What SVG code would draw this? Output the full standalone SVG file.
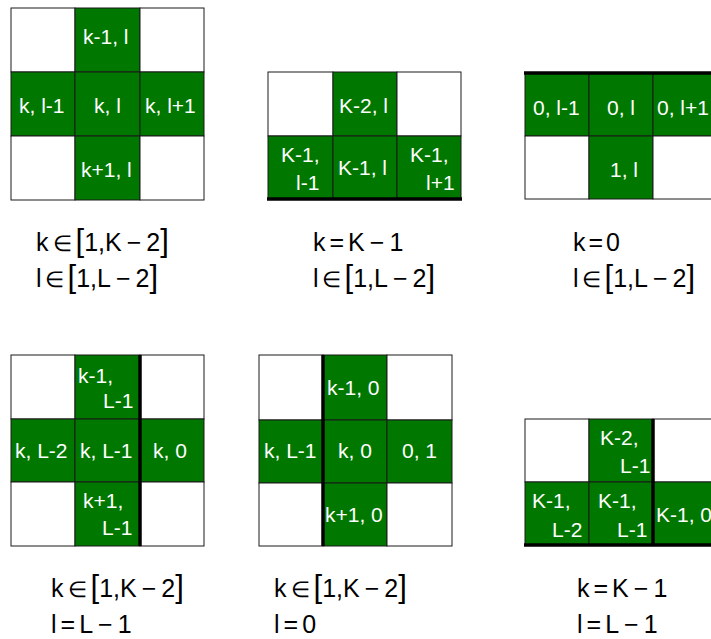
<svg xmlns="http://www.w3.org/2000/svg" width="711" height="639" viewBox="0 0 711 639">
<style>
.g{fill:#007800;stroke:#1a1a1a;stroke-width:1}
.w{fill:#fff;stroke:#1a1a1a;stroke-width:1}
.thick{stroke:#000;stroke-width:3.5;fill:none}
.t{font-family:"Liberation Sans",Arial,sans-serif;font-size:21px;fill:#fff}
.m{font-family:"Liberation Sans",Arial,sans-serif;font-size:25px;fill:#000}
.b{font-size:31px}
.e{font-size:22px}
</style>
<rect width="711" height="639" fill="#fff"/>

<g id="grid1">
<rect class="w" x="11" y="8" width="64" height="64"/>
<rect class="g" x="75" y="8" width="65" height="64"/>
<rect class="w" x="140" y="8" width="64" height="64"/>
<rect class="g" x="11" y="72" width="64" height="64"/>
<rect class="g" x="75" y="72" width="65" height="64"/>
<rect class="g" x="140" y="72" width="64" height="64"/>
<rect class="w" x="11" y="136" width="64" height="64"/>
<rect class="g" x="75" y="136" width="65" height="64"/>
<rect class="w" x="140" y="136" width="64" height="64"/>
<text class="t" x="83" y="44">k-1, l</text>
<text class="t" x="19" y="113">k, l-1</text>
<text class="t" x="94" y="113">k, l</text>
<text class="t" x="145" y="113">k, l+1</text>
<text class="t" x="81" y="177">k+1, l</text>
</g>

<g id="grid2">
<rect class="w" x="268" y="72" width="65" height="64"/>
<rect class="g" x="333" y="72" width="64" height="64"/>
<rect class="w" x="397" y="72" width="64" height="64"/>
<rect class="g" x="268" y="136" width="65" height="63"/>
<rect class="g" x="333" y="136" width="64" height="63"/>
<rect class="g" x="397" y="136" width="64" height="63"/>
<line class="thick" x1="267" y1="199" x2="462" y2="199"/>
<text class="t" x="339" y="113">K-2, l</text>
<text class="t" x="281" y="162">K-1,</text>
<text class="t" x="296" y="190">l-1</text>
<text class="t" x="338" y="175">K-1, l</text>
<text class="t" x="410" y="162">K-1,</text>
<text class="t" x="426" y="190">l+1</text>
</g>

<g id="grid3">
<rect class="g" x="525" y="73" width="64" height="63"/>
<rect class="g" x="589" y="73" width="64" height="63"/>
<rect class="g" x="653" y="73" width="64" height="63"/>
<rect class="w" x="525" y="136" width="64" height="63"/>
<rect class="g" x="589" y="136" width="64" height="63"/>
<rect class="w" x="653" y="136" width="64" height="63"/>
<line class="thick" x1="524" y1="73" x2="718" y2="73"/>
<text class="t" x="533" y="115">0, l-1</text>
<text class="t" x="607" y="115">0, l</text>
<text class="t" x="657" y="115">0, l+1</text>
<text class="t" x="610" y="177">1, l</text>
</g>

<g id="grid4">
<rect class="w" x="11" y="355" width="64" height="64"/>
<rect class="g" x="75" y="355" width="65" height="64"/>
<rect class="w" x="140" y="355" width="64" height="64"/>
<rect class="g" x="11" y="419" width="64" height="63"/>
<rect class="g" x="75" y="419" width="65" height="63"/>
<rect class="g" x="140" y="419" width="64" height="63"/>
<rect class="w" x="11" y="482" width="64" height="64"/>
<rect class="g" x="75" y="482" width="65" height="64"/>
<rect class="w" x="140" y="482" width="64" height="64"/>
<line class="thick" x1="140" y1="355" x2="140" y2="546"/>
<text class="t" x="78" y="383">k-1,</text>
<text class="t" x="103" y="408">L-1</text>
<text class="t" x="15" y="458">k, L-2</text>
<text class="t" x="80" y="458">k, L-1</text>
<text class="t" x="153" y="458">k, 0</text>
<text class="t" x="83" y="508">k+1,</text>
<text class="t" x="102" y="535">L-1</text>
</g>

<g id="grid5">
<rect class="w" x="259" y="355" width="64" height="65"/>
<rect class="g" x="323" y="355" width="64" height="65"/>
<rect class="w" x="387" y="355" width="65" height="65"/>
<rect class="g" x="259" y="420" width="64" height="63"/>
<rect class="g" x="323" y="420" width="64" height="63"/>
<rect class="g" x="387" y="420" width="65" height="63"/>
<rect class="w" x="259" y="483" width="64" height="63"/>
<rect class="g" x="323" y="483" width="64" height="63"/>
<rect class="w" x="387" y="483" width="65" height="63"/>
<line class="thick" x1="323" y1="355" x2="323" y2="546"/>
<text class="t" x="327" y="395">k-1, 0</text>
<text class="t" x="264" y="458">k, L-1</text>
<text class="t" x="338" y="458">k, 0</text>
<text class="t" x="402" y="458">0, 1</text>
<text class="t" x="325" y="522">k+1, 0</text>
</g>

<g id="grid6">
<rect class="w" x="525" y="419" width="64" height="63"/>
<rect class="g" x="589" y="419" width="64" height="63"/>
<rect class="w" x="653" y="419" width="64" height="63"/>
<rect class="g" x="525" y="482" width="64" height="63"/>
<rect class="g" x="589" y="482" width="64" height="63"/>
<rect class="g" x="653" y="482" width="64" height="63"/>
<line class="thick" x1="653" y1="419" x2="653" y2="546"/>
<line class="thick" x1="524" y1="545" x2="718" y2="545"/>
<text class="t" x="600" y="445">K-2,</text>
<text class="t" x="620" y="473">L-1</text>
<text class="t" x="532" y="508">K-1,</text>
<text class="t" x="552" y="537">L-2</text>
<text class="t" x="598" y="508">K-1,</text>
<text class="t" x="617" y="537">L-1</text>
<text class="t" x="656" y="522">K-1, 0</text>
</g>

<g id="connectors"></g>

<g id="labels">
<text class="m" x="36" y="251">k<tspan class="e" dx="4">∈</tspan><tspan class="b" dx="4">[</tspan>1,K<tspan dx="5">−</tspan><tspan dx="5">2</tspan><tspan class="b">]</tspan></text>
<text class="m" x="36" y="287">l<tspan class="e" dx="3">∈</tspan><tspan class="b" dx="4">[</tspan>1,L<tspan dx="5">−</tspan><tspan dx="5">2</tspan><tspan class="b">]</tspan></text>
<text class="m" x="313" y="251">k<tspan dx="4">=</tspan><tspan dx="4">K</tspan><tspan dx="5">−</tspan><tspan dx="5">1</tspan></text>
<text class="m" x="313" y="287">l<tspan class="e" dx="3">∈</tspan><tspan class="b" dx="4">[</tspan>1,L<tspan dx="5">−</tspan><tspan dx="5">2</tspan><tspan class="b">]</tspan></text>
<text class="m" x="573" y="251">k<tspan dx="3">=</tspan><tspan dx="3">0</tspan></text>
<text class="m" x="573" y="287">l<tspan class="e" dx="3">∈</tspan><tspan class="b" dx="4">[</tspan>1,L<tspan dx="5">−</tspan><tspan dx="5">2</tspan><tspan class="b">]</tspan></text>

<text class="m" x="51" y="597">k<tspan class="e" dx="4">∈</tspan><tspan class="b" dx="4">[</tspan>1,K<tspan dx="5">−</tspan><tspan dx="5">2</tspan><tspan class="b">]</tspan></text>
<text class="m" x="51" y="633">l<tspan dx="4">=</tspan><tspan dx="4">L</tspan><tspan dx="5">−</tspan><tspan dx="5">1</tspan></text>
<text class="m" x="274" y="597">k<tspan class="e" dx="4">∈</tspan><tspan class="b" dx="4">[</tspan>1,K<tspan dx="5">−</tspan><tspan dx="5">2</tspan><tspan class="b">]</tspan></text>
<text class="m" x="274" y="633">l<tspan dx="4">=</tspan><tspan dx="4">0</tspan></text>
<text class="m" x="577" y="597">k<tspan dx="4">=</tspan><tspan dx="4">K</tspan><tspan dx="5">−</tspan><tspan dx="5">1</tspan></text>
<text class="m" x="577" y="633">l<tspan dx="4">=</tspan><tspan dx="4">L</tspan><tspan dx="5">−</tspan><tspan dx="5">1</tspan></text>
</g>
</svg>
